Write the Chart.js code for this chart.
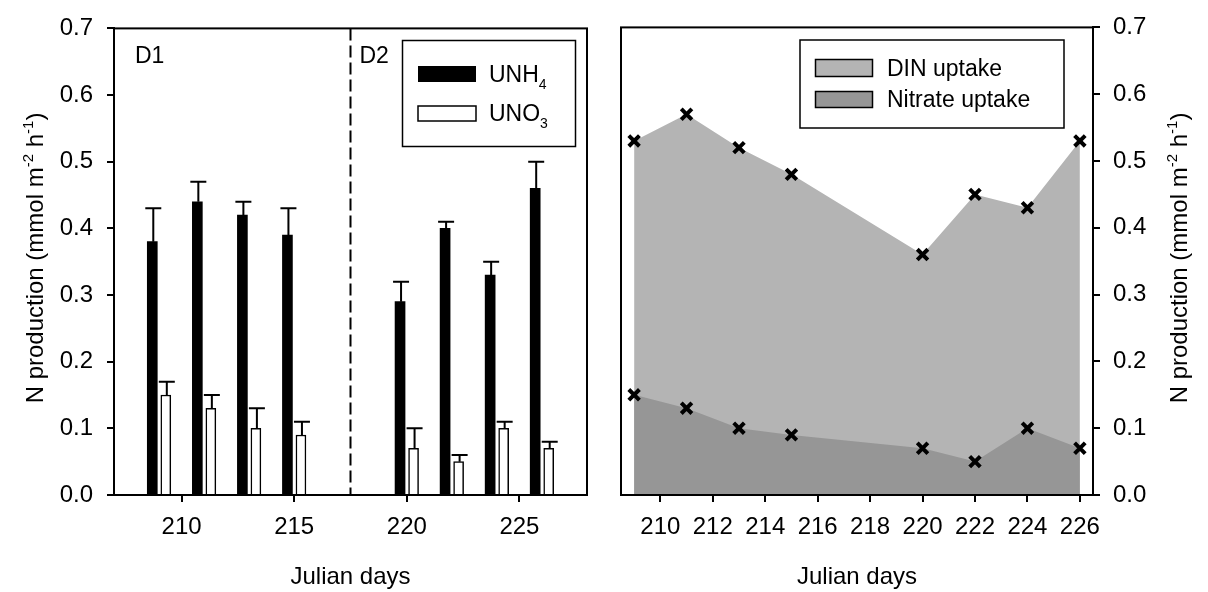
<!DOCTYPE html>
<html>
<head>
<meta charset="utf-8">
<script src="https://cdn.jsdelivr.net/npm/chart.js@4.4.1/dist/chart.umd.min.js"></script>
<style>
  body { margin: 0; background: #fff; }
  #wrap { position: relative; width: 1208px; height: 592px; background: #fff; }
  canvas { position: absolute; top: 0; }
  #leftChart { left: 0; }
  #rightChart { left: 600px; }
</style>
</head>
<body>
<div id="wrap">
  <canvas id="leftChart" width="600" height="592"></canvas>
  <canvas id="rightChart" width="608" height="592"></canvas>
</div>
<script>
// values (Julian days, mmol m-2 h-1)
const days = [209, 211, 213, 215, 220, 222, 224, 226];
const unh4 = [0.38, 0.44, 0.42, 0.39, 0.29, 0.40, 0.33, 0.46];
const unh4Err = [0.05, 0.03, 0.02, 0.04, 0.03, 0.01, 0.02, 0.04];
const uno3 = [0.15, 0.13, 0.10, 0.09, 0.07, 0.05, 0.10, 0.07];
const uno3Err = [0.02, 0.02, 0.03, 0.02, 0.03, 0.01, 0.01, 0.01];
const dinUptake = [0.53, 0.57, 0.52, 0.48, 0.36, 0.45, 0.43, 0.53];
const nitrateUptake = [0.15, 0.13, 0.10, 0.09, 0.07, 0.05, 0.10, 0.07];

const leftDayTicks = [210, 215, 220, 225];
const rightDayTicks = [210, 212, 214, 216, 218, 220, 222, 224, 226];
const yTicks = [0, 0.1, 0.2, 0.3, 0.4, 0.5, 0.6, 0.7];
const periodSplit = 217.5; // D1 | D2

const FONT = "'Liberation Sans', Arial, sans-serif";
const BAR_SHIFT = 0.3;

Chart.defaults.font.family = FONT;
Chart.defaults.font.size = 24;
Chart.defaults.color = '#000';

const yTitle = [
  { t: 'N production (mmol m' }, { t: '-2', sup: true },
  { t: ' h' }, { t: '-1', sup: true }, { t: ')' }
];

// text with super/subscripts, drawn piece by piece
function drawRich(ctx, parts, x, y, size, opts = {}) {
  const small = Math.round(size * 0.62);
  const fontOf = (p) => ((p.sup || p.sub) ? small : size) + 'px ' + FONT;
  ctx.save();
  ctx.translate(x, y);
  if (opts.rotate) ctx.rotate(-Math.PI / 2);
  let total = 0;
  parts.forEach((p) => { ctx.font = fontOf(p); total += ctx.measureText(p.t).width; });
  let px = opts.align === 'left' ? 0 : -total / 2;
  ctx.textAlign = 'left';
  ctx.textBaseline = 'alphabetic';
  ctx.fillStyle = '#000';
  const base = size * 0.36;
  parts.forEach((p) => {
    ctx.font = fontOf(p);
    let dy = base;
    if (p.sup) dy -= size * 0.42;
    if (p.sub) dy += size * 0.28;
    ctx.fillText(p.t, px, dy);
    px += ctx.measureText(p.t).width;
  });
  ctx.restore();
}

const frame = {
  id: 'frame',
  afterDatasetsDraw(chart) {
    const { ctx, chartArea: a } = chart;
    ctx.save();
    ctx.strokeStyle = '#000';
    ctx.lineWidth = 2;
    ctx.strokeRect(a.left, a.top, a.right - a.left, a.bottom - a.top);
    ctx.restore();
  }
};

const errorBars = {
  id: 'errorBars',
  afterDatasetsDraw(chart) {
    const { ctx } = chart;
    const y = chart.scales.y;
    ctx.save();
    ctx.strokeStyle = '#000';
    ctx.lineWidth = 2;
    chart.data.datasets.forEach((ds, di) => {
      if (!ds.errors) return;
      chart.getDatasetMeta(di).data.forEach((bar, i) => {
        const top = y.getPixelForValue(ds.data[i].y + ds.errors[i]);
        const base = y.getPixelForValue(ds.data[i].y);
        ctx.beginPath();
        ctx.moveTo(bar.x + 1, base);
        ctx.lineTo(bar.x + 1, top);
        ctx.moveTo(bar.x - 7, top);
        ctx.lineTo(bar.x + 9, top);
        ctx.stroke();
      });
    });
    ctx.restore();
  }
};

const leftDecor = {
  id: 'leftDecor',
  afterDraw(chart) {
    const { ctx, chartArea: a } = chart;
    const x = chart.scales.x;
    const sx = x.getPixelForValue(periodSplit);
    ctx.save();
    ctx.strokeStyle = '#000';
    ctx.lineWidth = 2;
    ctx.setLineDash([12, 5]);
    ctx.beginPath();
    ctx.moveTo(sx, a.top);
    ctx.lineTo(sx, a.bottom);
    ctx.stroke();
    ctx.setLineDash([]);

    ctx.font = '23px ' + FONT;
    ctx.fillStyle = '#000';
    ctx.textBaseline = 'alphabetic';
    ctx.fillText('D1', a.left + 21, a.top + 35);
    ctx.fillText('D2', sx + 9, a.top + 35);

    // legend
    ctx.lineWidth = 1.5;
    ctx.strokeRect(402.5, 40.5, 173, 106);
    ctx.fillRect(418, 66, 58, 16);
    ctx.fillStyle = '#fff';
    ctx.fillRect(418, 106, 58, 15);
    ctx.strokeRect(418, 106, 58, 15);
    drawRich(ctx, [{ t: 'UNH' }, { t: '4', sub: true }], 489, 74, 23, { align: 'left' });
    drawRich(ctx, [{ t: 'UNO' }, { t: '3', sub: true }], 489, 113, 23, { align: 'left' });

    drawRich(ctx, yTitle, 34, 258, 24, { rotate: true });
    drawRich(ctx, [{ t: 'Julian days' }], (a.left + a.right) / 2, 575, 24);
    ctx.restore();
  }
};

const rightDecor = {
  id: 'rightDecor',
  afterDraw(chart) {
    const { ctx, chartArea: a } = chart;
    ctx.save();
    ctx.strokeStyle = '#000';
    ctx.lineWidth = 1.5;
    ctx.fillStyle = '#fff';
    ctx.fillRect(200, 40, 264, 88);
    ctx.strokeRect(200, 40, 264, 88);
    ctx.fillStyle = '#b4b4b4';
    ctx.fillRect(215.5, 59.5, 57, 17);
    ctx.strokeRect(215.5, 59.5, 57, 17);
    ctx.fillStyle = '#969696';
    ctx.fillRect(215.5, 91.5, 57, 16);
    ctx.strokeRect(215.5, 91.5, 57, 16);
    drawRich(ctx, [{ t: 'DIN uptake' }], 287, 68, 23, { align: 'left' });
    drawRich(ctx, [{ t: 'Nitrate uptake' }], 287, 99, 23, { align: 'left' });

    drawRich(ctx, yTitle, 578, 258, 24, { rotate: true });
    drawRich(ctx, [{ t: 'Julian days' }], (a.left + a.right) / 2, 575, 24);
    ctx.restore();
  }
};

const tickGrid = {
  display: true,
  drawOnChartArea: false,
  drawTicks: true,
  tickLength: 7,
  color: '#000',
  lineWidth: 2
};
const axisBorder = { display: true, color: '#000', width: 2 };
const fixedTicks = (list) => (scale) => {
  scale.ticks = list.map((v) => ({ value: v }));
};

// left: bar chart with error bars
new Chart(document.getElementById('leftChart'), {
  type: 'bar',
  data: {
    datasets: [
      {
        label: 'UNH4',
        data: days.map((d, i) => ({ x: d - BAR_SHIFT, y: unh4[i] })),
        errors: unh4Err,
        backgroundColor: '#000',
        borderWidth: 0
      },
      {
        label: 'UNO3',
        data: days.map((d, i) => ({ x: d + BAR_SHIFT, y: uno3[i] })),
        errors: uno3Err,
        backgroundColor: '#fff',
        borderColor: '#000',
        borderWidth: 1.5
      }
    ]
  },
  options: {
    responsive: false,
    animation: false,
    grouped: false,
    barThickness: 10,
    layout: { padding: { left: 0, right: 13, top: 22, bottom: 0 } },
    plugins: { legend: { display: false }, tooltip: { enabled: false } },
    scales: {
      x: {
        type: 'linear',
        min: 207,
        max: 228,
        offset: false,
        afterBuildTicks: fixedTicks(leftDayTicks),
        afterFit: (s) => { s.height = 97; },
        grid: { ...tickGrid, offset: false },
        border: axisBorder,
        ticks: { padding: 11, maxRotation: 0, callback: (v) => String(v) }
      },
      y: {
        min: 0,
        max: 0.7,
        afterBuildTicks: fixedTicks(yTicks),
        afterFit: (s) => { s.width = 114; },
        grid: tickGrid,
        border: axisBorder,
        ticks: { padding: 14, callback: (v) => v.toFixed(1) }
      }
    }
  },
  plugins: [errorBars, frame, leftDecor]
});

// right: area chart, nitrate drawn over DIN
new Chart(document.getElementById('rightChart'), {
  type: 'line',
  data: {
    datasets: [
      {
        label: 'DIN uptake',
        data: days.map((d, i) => ({ x: d, y: dinUptake[i] })),
        order: 2,
        fill: 'origin',
        backgroundColor: '#b4b4b4',
        borderColor: 'rgba(0,0,0,0)',
        borderWidth: 0,
        pointStyle: 'crossRot',
        pointRadius: 7.5,
        pointBorderWidth: 4,
        pointBorderColor: '#000'
      },
      {
        label: 'Nitrate uptake',
        data: days.map((d, i) => ({ x: d, y: nitrateUptake[i] })),
        order: 1,
        fill: 'origin',
        backgroundColor: '#969696',
        borderColor: 'rgba(0,0,0,0)',
        borderWidth: 0,
        pointStyle: 'crossRot',
        pointRadius: 7.5,
        pointBorderWidth: 4,
        pointBorderColor: '#000'
      }
    ]
  },
  options: {
    responsive: false,
    animation: false,
    layout: { padding: { left: 21, right: 0, top: 22, bottom: 0 } },
    plugins: {
      legend: { display: false },
      tooltip: { enabled: false },
      filler: { drawTime: 'beforeDatasetsDraw' }
    },
    scales: {
      x: {
        type: 'linear',
        min: 208.5,
        max: 226.5,
        afterBuildTicks: fixedTicks(rightDayTicks),
        afterFit: (s) => { s.height = 97; },
        grid: tickGrid,
        border: axisBorder,
        ticks: { padding: 11, maxRotation: 0, autoSkip: false, callback: (v) => String(v) }
      },
      y: {
        position: 'right',
        min: 0,
        max: 0.7,
        afterBuildTicks: fixedTicks(yTicks),
        afterFit: (s) => { s.width = 115; },
        grid: tickGrid,
        border: axisBorder,
        ticks: { padding: 13, callback: (v) => v.toFixed(1) }
      }
    }
  },
  plugins: [frame, rightDecor]
});
</script>
</body>
</html>
